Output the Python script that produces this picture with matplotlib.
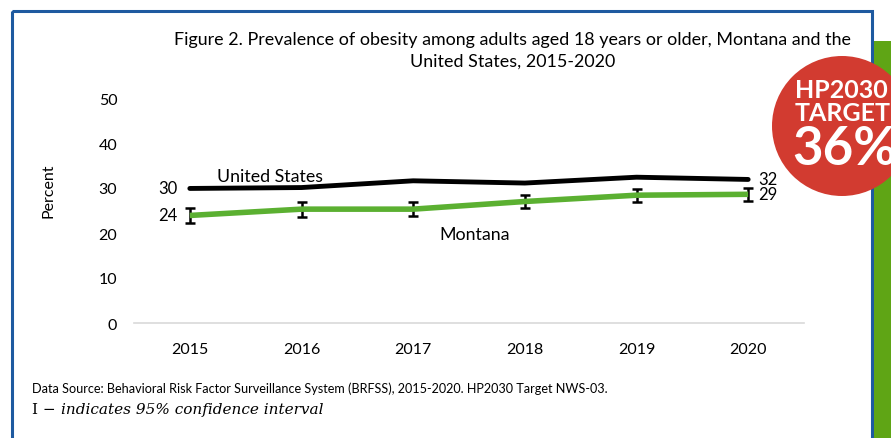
import matplotlib.pyplot as plt
from matplotlib.patches import Rectangle, Circle

plt.rcParams['font.family'] = ['Lato', 'DejaVu Sans']

# data
years = ['2015', '2016', '2017', '2018', '2019', '2020']
us = [29.9, 30.1, 31.6, 31.1, 32.4, 31.9]
montana = [23.9, 25.3, 25.3, 27.0, 28.4, 28.6]
mt_err = [1.6, 1.7, 1.6, 1.55, 1.4, 1.4]
yticks = [0, 10, 20, 30, 40, 50]

fig = plt.figure(figsize=(8.91, 4.39), dpi=100)

ax = fig.add_axes([134 / 891, 1 - 324 / 439, 670 / 891, 225 / 439])
ax.set_facecolor('none')
x = list(range(len(years)))

ax.errorbar(x, montana, yerr=mt_err, fmt='none', ecolor='black',
            elinewidth=1.8, capsize=3.5, capthick=1.8, zorder=2)
ax.plot(x, montana, color='#5bb031', lw=4, solid_capstyle='butt', zorder=3)
ax.plot(x, us, color='black', lw=3.5, solid_capstyle='round', zorder=3)

ax.set_xlim(-0.5, len(years) - 0.5)
ax.set_ylim(0, 50)
ax.set_xticks(x)
ax.set_xticklabels(years)
ax.set_yticks(yticks)
ax.tick_params(length=0, labelsize=11.5, pad=14)
ax.tick_params(axis='y', pad=12)
for s in ['left', 'right', 'top']:
    ax.spines[s].set_visible(False)
ax.spines['bottom'].set_color('#d9d9d9')
ax.spines['bottom'].set_linewidth(1.2)

# end labels
ax.annotate(str(round(us[0])), (0, us[0]), xytext=(-9, 0), textcoords='offset points',
            ha='right', va='center', fontsize=12)
ax.annotate(str(round(montana[0])), (0, montana[0]), xytext=(-9, 0), textcoords='offset points',
            ha='right', va='center', fontsize=12)
ax.annotate(str(round(us[-1])), (5, us[-1]), xytext=(7, 0), textcoords='offset points',
            ha='left', va='center', fontsize=12)
ax.annotate(str(round(montana[-1])), (5, montana[-1]), xytext=(7, 0), textcoords='offset points',
            ha='left', va='center', fontsize=12)
ax.text(0.72, 32.7, 'United States', ha='center', va='center', fontsize=12.8)
ax.text(2.55, 19.8, 'Montana', ha='center', va='center', fontsize=12.8)

# overlay in pixel coordinates
ov = fig.add_axes([0, 0, 1, 1])
ov.set_xlim(0, 891)
ov.set_ylim(439, 0)
ov.axis('off')
ov.patch.set_alpha(0)

ov.add_patch(Rectangle((12, 12), 860, 460, fill=False, edgecolor='#1e5aa0', lw=2.2))
ov.add_patch(Rectangle((874, 42), 20, 420, facecolor='#5fa515', edgecolor='none'))
ov.add_patch(Circle((842, 127), 70, facecolor='#d23b30', edgecolor='none', zorder=5))
ov.text(795, 91, 'HP2030', color='white', fontsize=18, fontweight='bold',
        ha='left', va='center', zorder=6)
ov.text(795, 114, 'TARGET:', color='white', fontsize=18, fontweight='bold',
        ha='left', va='center', zorder=6)
ov.text(792, 150, '36%', color='white', fontsize=38, fontweight='bold',
        ha='left', va='center', zorder=6)

ov.text(513, 40, 'Figure 2. Prevalence of obesity among adults aged 18 years or older, Montana and the',
        ha='center', va='center', fontsize=12.9)
ov.text(513, 62, 'United States, 2015-2020', ha='center', va='center', fontsize=12.9)
ov.text(49, 191, 'Percent', rotation=90, ha='center', va='center', fontsize=11.5)

ov.text(32, 389, 'Data Source: Behavioral Risk Factor Surveillance System (BRFSS), 2015-2020. HP2030 Target NWS-03.',
        ha='left', va='center', fontsize=9.1)
ov.text(32, 410, 'I \u2212', ha='left', va='center', fontsize=11, family='DejaVu Serif')
ov.text(61, 410, 'indicates 95% confidence interval', ha='left', va='center',
        fontsize=11, family='DejaVu Serif', style='italic')

fig.savefig('out.png', dpi=100)
